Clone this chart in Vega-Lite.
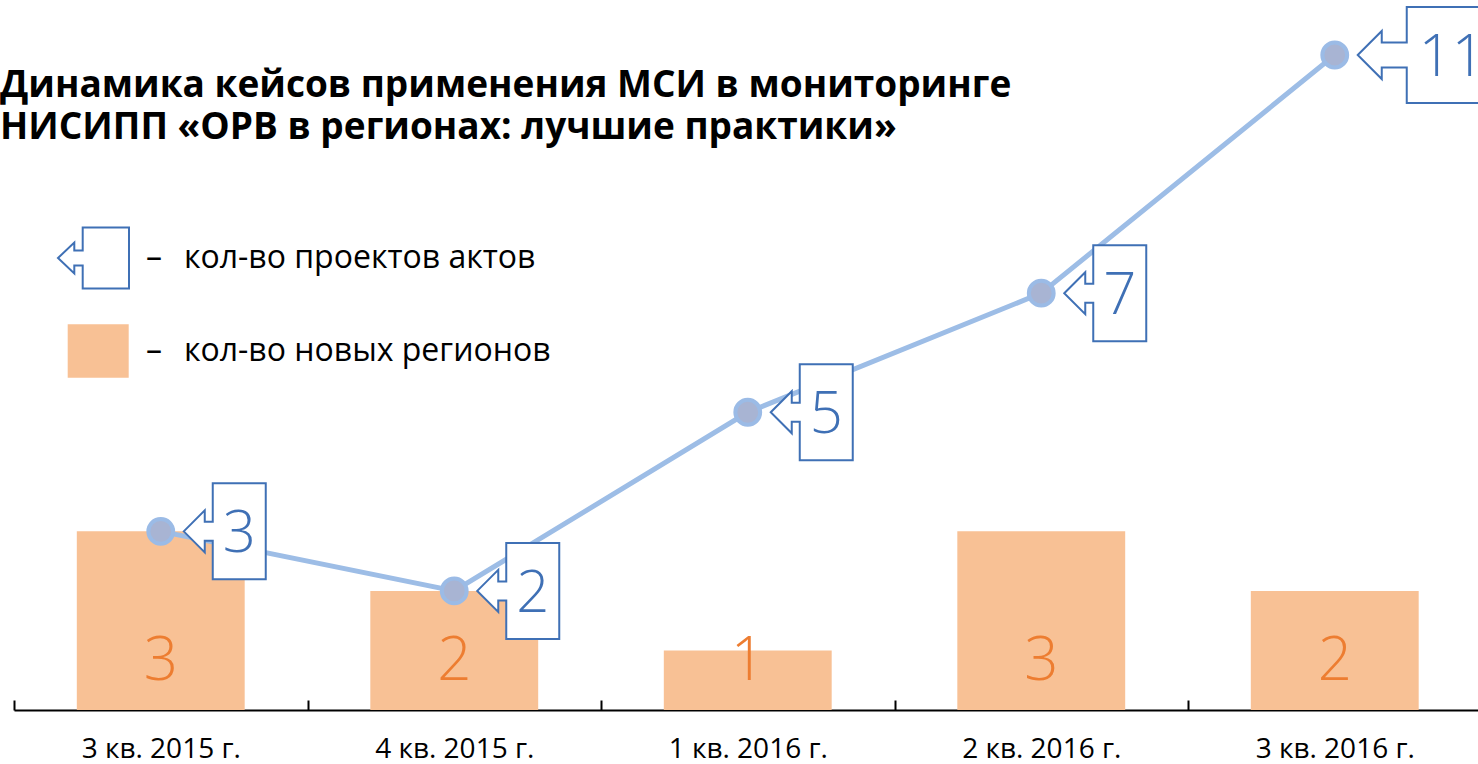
{
  "$schema": "https://vega.github.io/schema/vega-lite/v6.json",
  "width": 1467.5,
  "height": 655,
  "autosize": {"type": "none"},
  "padding": {"left": 14, "top": 55, "right": 0, "bottom": 54},
  "background": "white",
  "config": {"view": {"stroke": null}, "font": "Open Sans"},
  "title": {
    "text": ["Динамика кейсов применения МСИ в мониторинге", "НИСИПП «ОРВ в регионах: лучшие практики»"],
    "anchor": "start",
    "frame": "group",
    "orient": "top",
    "offset": -173,
    "dx": -14,
    "dy": 0,
    "baseline": "alphabetic",
    "font": "Open Sans",
    "fontSize": 37,
    "fontWeight": "bold",
    "color": "black",
    "lineHeight": 42.5
  },
  "data": {
    "values": [
      {"q": "3 кв. 2015 г.", "regions": 3, "acts": 3},
      {"q": "4 кв. 2015 г.", "regions": 2, "acts": 2},
      {"q": "1 кв. 2016 г.", "regions": 1, "acts": 5},
      {"q": "2 кв. 2016 г.", "regions": 3, "acts": 7},
      {"q": "3 кв. 2016 г.", "regions": 2, "acts": 11}
    ]
  },
  "encoding": {
    "x": {
      "field": "q",
      "type": "nominal",
      "sort": null,
      "scale": {"paddingInner": 0, "paddingOuter": 0},
      "axis": {
        "title": null,
        "labelAngle": 0,
        "domainColor": "black",
        "domainWidth": 2,
        "tickColor": "black",
        "tickWidth": 2,
        "tickSize": -10,
        "tickBand": "extent",
        "labelFont": "Open Sans",
        "labelFontSize": 28,
        "labelColor": "black",
        "labelBaseline": "alphabetic",
        "labelPadding": 57,
        "grid": false
      }
    }
  },
  "layer": [
    {
      "mark": {"type": "bar", "width": {"band": 0.572}},
      "encoding": {
        "y": {"field": "regions", "type": "quantitative", "scale": {"domain": [0, 11], "nice": false}, "axis": null},
        "color": {
          "datum": "regions",
          "scale": {"domain": ["regions"], "range": ["#F8C195"]},
          "legend": {
            "orient": "none",
            "legendX": 63,
            "legendY": 280,
            "title": null,
            "symbolType": "M-25.3,-26.7L35.7,-26.7L35.7,26.7L-25.3,26.7Z",
            "symbolSize": 4,
            "symbolStrokeWidth": 0,
            "symbolOpacity": 1,
            "labelFont": "Open Sans",
            "labelFontSize": 32,
            "labelColor": "black",
            "labelOffset": 37,
            "padding": 0,
            "labelLimit": 0,
            "labelExpr": "'–\u00a0\u00a0\u2009кол-во новых регионов'"
          }
        }
      }
    },
    {
      "mark": {"type": "text", "dy": -30, "baseline": "alphabetic", "align": "center", "fontSize": 60, "fontWeight": 300, "font": "Open Sans", "color": "#ED7D31"},
      "encoding": {
        "y": {"datum": 0, "type": "quantitative"},
        "text": {"field": "regions", "type": "quantitative"}
      }
    },
    {
      "mark": {"type": "line", "color": "#9DBDE6", "strokeWidth": 5},
      "encoding": {"y": {"field": "acts", "type": "quantitative"}}
    },
    {
      "mark": {"type": "point", "filled": true, "fill": "white", "strokeWidth": 2, "size": 4, "opacity": 1, "fillOpacity": 1},
      "encoding": {
        "y": {"field": "acts", "type": "quantitative"},
        "stroke": {
          "datum": "acts",
          "scale": {"domain": ["acts"], "range": ["#3F70B5"]},
          "legend": {
            "orient": "none",
            "legendX": 63,
            "legendY": 187,
            "title": null,
            "symbolType": "M-35,0L-18.7,-15.5L-18.7,-7.5L-10.3,-7.5L-10.3,-30.5L36,-30.5L36,30.5L-10.3,30.5L-10.3,7.5L-18.7,7.5L-18.7,15.5Z",
            "symbolSize": 4,
            "symbolStrokeWidth": 2,
            "symbolFillColor": "white",
            "symbolOpacity": 1,
            "labelFont": "Open Sans",
            "labelFontSize": 32,
            "labelColor": "black",
            "labelOffset": 37,
            "padding": 0,
            "labelLimit": 0,
            "labelExpr": "'–\u00a0\u00a0\u2009кол-во проектов актов'"
          }
        },
        "shape": {
          "condition": {"test": "datum.acts >= 10", "value": "M23,0L47,-24L47,-12.5L72,-12.5L72,-48L162,-48L162,48L72,48L72,12.5L47,12.5L47,24Z"},
          "value": "M23,0L44,-21L44,-9.5L52,-9.5L52,-48L105,-48L105,48L52,48L52,9.5L44,9.5L44,21Z"
        }
      }
    },
    {
      "transform": [{"filter": "datum.acts < 10"}],
      "mark": {"type": "text", "dx": 78.5, "dy": 21, "baseline": "alphabetic", "align": "center", "fontSize": 58, "fontWeight": 300, "font": "Open Sans", "color": "#3F70B5"},
      "encoding": {
        "y": {"field": "acts", "type": "quantitative"},
        "text": {"field": "acts", "type": "quantitative"}
      }
    },
    {
      "transform": [{"filter": "datum.acts >= 10"}],
      "mark": {"type": "text", "dx": 117, "dy": 21, "baseline": "alphabetic", "align": "center", "fontSize": 58, "fontWeight": 300, "font": "Open Sans", "color": "#3F70B5"},
      "encoding": {
        "y": {"field": "acts", "type": "quantitative"},
        "text": {"field": "acts", "type": "quantitative"}
      }
    },
    {
      "mark": {"type": "point", "filled": true, "size": 616, "fill": "#A8B4D3", "stroke": "#9BBBE6", "strokeWidth": 4, "opacity": 1, "fillOpacity": 1},
      "encoding": {"y": {"field": "acts", "type": "quantitative"}}
    }
  ]
}
